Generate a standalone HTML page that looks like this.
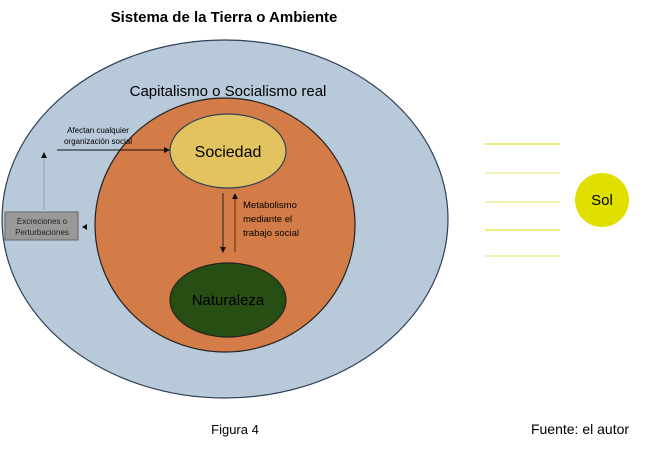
<!DOCTYPE html>
<html><head><style>body{margin:0;background:#fff}</style></head><body>
<svg width="653" height="448" xmlns="http://www.w3.org/2000/svg" font-family="Liberation Sans, sans-serif">
<rect width="653" height="448" fill="#fff"/>
<text x="224" y="22" font-size="15" font-weight="bold" text-anchor="middle">Sistema de la Tierra o Ambiente</text>
<ellipse cx="225" cy="219" rx="223" ry="179" fill="#b8c9d9" stroke="#2f3f57" stroke-width="1.2"/>
<text x="228" y="96" font-size="15" text-anchor="middle">Capitalismo o Socialismo real</text>
<ellipse cx="225" cy="225" rx="130" ry="127" fill="#d47c48" stroke="#222" stroke-width="1.2"/>
<ellipse cx="228" cy="151" rx="58" ry="37" fill="#e3c35f" stroke="#2f3f57" stroke-width="1.2"/>
<text x="228" y="157" font-size="16" text-anchor="middle">Sociedad</text>
<ellipse cx="228" cy="300" rx="58" ry="37" fill="#274e13" stroke="#222" stroke-width="1.2"/>
<text x="228" y="305" font-size="15" text-anchor="middle">Naturaleza</text>
<text x="98" y="133" font-size="8" text-anchor="middle">Afectan cualquier</text>
<text x="98" y="144" font-size="8" text-anchor="middle">organización social</text>
<line x1="57" y1="150" x2="165" y2="150" stroke="#111" stroke-width="1"/>
<polygon points="170,150 164,147 164,153" fill="#111"/>
<line x1="44" y1="210" x2="44" y2="158" stroke="#8da0b3" stroke-width="1"/>
<polygon points="44,152 41,158 47,158" fill="#111"/>
<rect x="5" y="212" width="73" height="28" fill="#999" stroke="#666"/>
<text x="42" y="224" font-size="8" text-anchor="middle" fill="#222">Excreciones o</text>
<text x="42" y="235" font-size="8" text-anchor="middle" fill="#222">Perturbaciones</text>
<polygon points="82,227 87,224 87,230" fill="#111"/>
<line x1="223" y1="193" x2="223" y2="248" stroke="#222"/>
<polygon points="223,253 220,247 226,247" fill="#111"/>
<line x1="235" y1="252" x2="235" y2="198" stroke="#5a2a10"/>
<polygon points="235,193 232,199 238,199" fill="#111"/>
<text x="243" y="208" font-size="9.5">Metabolismo</text>
<text x="243" y="222" font-size="9.5">mediante el</text>
<text x="243" y="236" font-size="9.5">trabajo social</text>
<g stroke="#e2df3a" stroke-width="1.2"><line x1="485" y1="144" x2="560" y2="144"/><line x1="485" y1="173" x2="560" y2="173" stroke="#ecec8a"/><line x1="485" y1="202" x2="560" y2="202" stroke="#ecec80"/><line x1="485" y1="230" x2="560" y2="230"/><line x1="485" y1="256" x2="560" y2="256" stroke="#ecec8a"/></g>
<circle cx="602" cy="200" r="27" fill="#e0e000"/>
<text x="602" y="205" font-size="15" text-anchor="middle">Sol</text>
<text x="235" y="434" font-size="13" text-anchor="middle">Figura 4</text>
<text x="580" y="434" font-size="14" text-anchor="middle">Fuente: el autor</text>
</svg>
</body></html>
